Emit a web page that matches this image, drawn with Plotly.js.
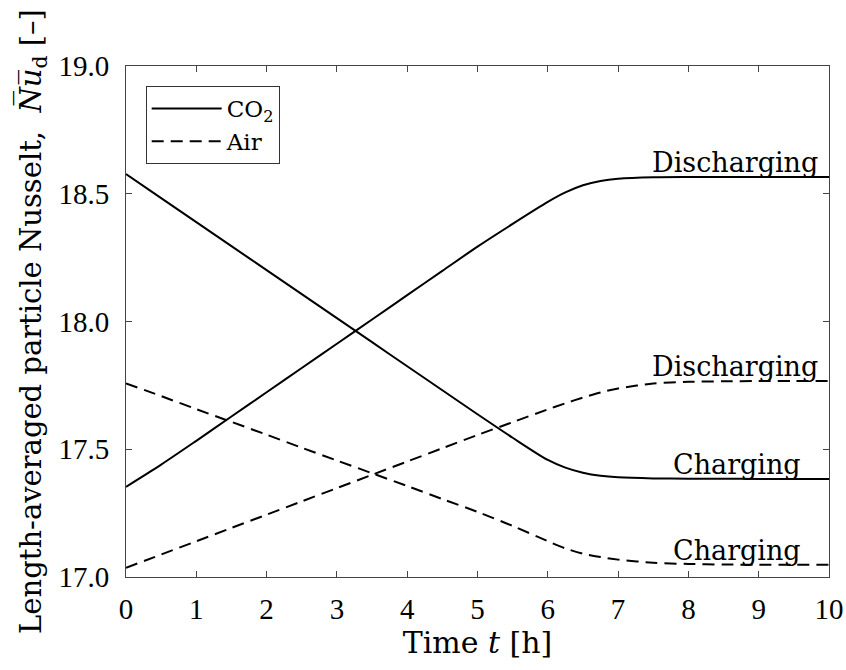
<!DOCTYPE html>
<html>
<head>
<meta charset="utf-8">
<script src="https://cdn.plot.ly/plotly-3.0.1.min.js"></script>
<style>html,body{margin:0;padding:0;background:#fff;}#chart{width:846px;height:670px;}</style>
</head>
<body>
<div id="chart"></div>
<script>
// Time [h]
const time = [0,0.5,1,1.5,2,2.5,3,3.5,4,4.5,5,5.5,6,6.25,6.5,6.75,7,7.5,8,8.5,9,9.5,10];
// CO2 - charging (decreasing) and discharging (increasing)
const co2Charging = [18.577,18.483,18.389,18.295,18.201,18.107,18.013,17.919,17.825,17.731,17.637,17.545,17.458,17.428,17.408,17.396,17.390,17.386,17.385,17.385,17.384,17.384,17.384];
const co2Discharging = [17.353,17.440,17.533,17.628,17.723,17.818,17.913,18.008,18.103,18.198,18.293,18.382,18.468,18.505,18.533,18.550,18.559,18.565,18.566,18.566,18.566,18.566,18.566];
// Air - charging (decreasing) and discharging (increasing)
const airCharging = [17.758,17.708,17.657,17.607,17.557,17.506,17.456,17.406,17.356,17.305,17.255,17.200,17.140,17.112,17.091,17.078,17.068,17.056,17.051,17.049,17.048,17.048,17.048];
const airDischarging = [17.036,17.088,17.140,17.192,17.244,17.296,17.348,17.400,17.452,17.504,17.556,17.606,17.656,17.680,17.702,17.722,17.738,17.757,17.764,17.766,17.767,17.767,17.767];

const xTicks = [0,1,2,3,4,5,6,7,8,9,10];
const yTicks = [17.0,17.5,18.0,18.5,19.0];
const labels = [
  {text:'Discharging', x:9.87, y:co2Discharging[co2Discharging.length-1]},
  {text:'Discharging', x:9.87, y:airDischarging[airDischarging.length-1]},
  {text:'Charging', x:9.63, y:co2Charging[co2Charging.length-1]},
  {text:'Charging', x:9.63, y:airCharging[airCharging.length-1]}
];

const NUM = 'Liberation Serif, DejaVu Serif, serif';
const TXT = 'DejaVu Serif, Liberation Serif, serif';
const lineW = 2;
const dashP = '12px,7px';

const traces = [
  {x:time, y:co2Charging, mode:'lines', name:'CO<sub>2</sub>', line:{color:'#000', width:lineW, shape:'spline', smoothing:0.8}, legendgroup:'co2'},
  {x:time, y:co2Discharging, mode:'lines', name:'CO<sub>2</sub>', showlegend:false, line:{color:'#000', width:lineW, shape:'spline', smoothing:0.8}, legendgroup:'co2'},
  {x:time, y:airCharging, mode:'lines', name:'Air', line:{color:'#000', width:lineW, dash:dashP, shape:'spline', smoothing:0.8}, legendgroup:'air'},
  {x:time, y:airDischarging, mode:'lines', name:'Air', showlegend:false, line:{color:'#000', width:lineW, dash:dashP, shape:'spline', smoothing:0.8}, legendgroup:'air'}
];

const layout = {
  width:846, height:670,
  margin:{l:126, r:17, t:66, b:93},
  paper_bgcolor:'#fff', plot_bgcolor:'#fff',
  font:{family:NUM, size:29, color:'#000'},
  showlegend:true,
  legend:{x:0.028, y:0.961, xanchor:'left', yanchor:'top', bgcolor:'#fff', bordercolor:'#333', borderwidth:1,
    font:{family:TXT, size:23, color:'#000'}, tracegroupgap:0, itemwidth:70},
  xaxis:{range:[0,10], tickvals:xTicks, ticktext:xTicks.map(String), ticks:'inside', ticklen:6, tickcolor:'#444',
    showline:true, linecolor:'#444', linewidth:1, mirror:'ticks', showgrid:false, zeroline:false,
    tickfont:{family:NUM, size:29}, ticklabelstandoff:6,
    title:{text:'Time <i>t</i> [h]', font:{family:TXT, size:30}, standoff:4}},
  yaxis:{range:[17,19], tickvals:yTicks, ticktext:yTicks.map(v=>v.toFixed(1)), ticks:'inside', ticklen:6, tickcolor:'#444',
    showline:true, linecolor:'#444', linewidth:1, mirror:'ticks', showgrid:false, zeroline:false,
    tickfont:{family:NUM, size:29}, ticklabelstandoff:10,
    title:{text:'Length-averaged particle Nusselt,  <i>N\u0305u\u0305</i><sub>d</sub> [\u2013]', font:{family:TXT, size:29}, standoff:8}},
  annotations: labels.map(l=>({text:l.text, x:l.x, y:l.y, xref:'x', yref:'y', xanchor:'right', yanchor:'bottom', showarrow:false,
    font:{family:TXT, size:27, color:'#000'}, yshift:-3}))
};

Plotly.newPlot('chart', traces, layout, {displayModeBar:false, staticPlot:true});
</script>
</body>
</html>
